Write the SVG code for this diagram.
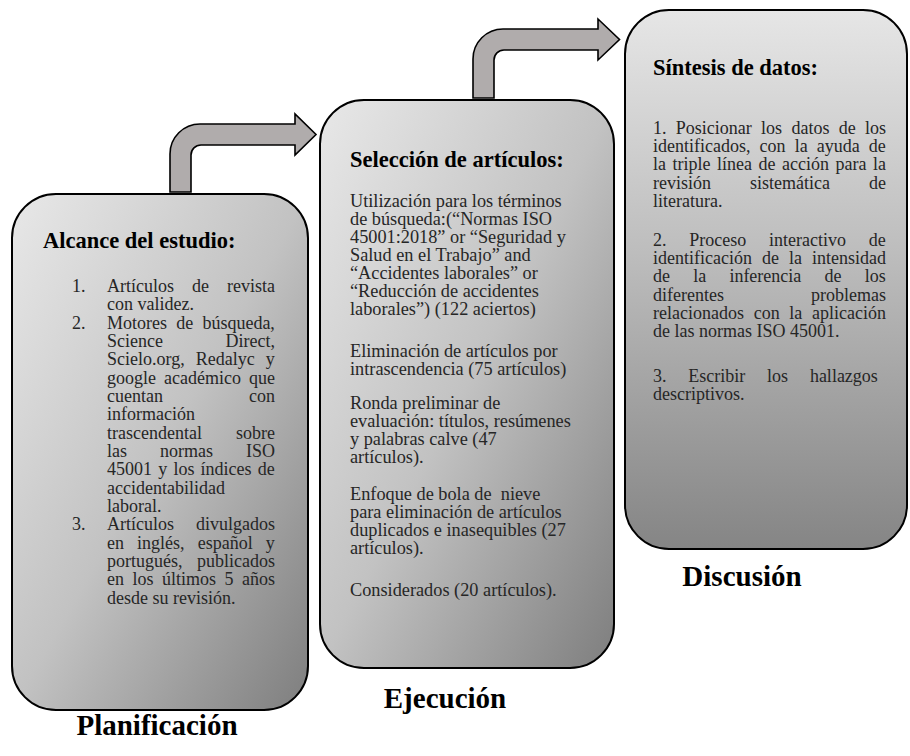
<svg xmlns="http://www.w3.org/2000/svg" width="910" height="756" viewBox="0 0 910 756">
<defs>
<linearGradient id="gDiag" x1="0" y1="0" x2="1" y2="1">
<stop offset="0" stop-color="#e8e8e8"/>
<stop offset="0.5" stop-color="#c2c2c2"/>
<stop offset="1" stop-color="#7e7e7e"/>
</linearGradient>
<linearGradient id="gVert" x1="0" y1="0" x2="0" y2="1">
<stop offset="0" stop-color="#e6e6e6"/>
<stop offset="0.45" stop-color="#bdbdbd"/>
<stop offset="1" stop-color="#858585"/>
</linearGradient>
<style>
.box{stroke:#000;stroke-width:2}
.arrow{fill:#b0acac;stroke:#000;stroke-width:1.6;stroke-linejoin:miter}
.t{font-family:"Liberation Serif","Times New Roman",serif;font-size:18px;fill:#262626}
.m{font-size:18.3px}
.h{font-family:"Liberation Serif","Times New Roman",serif;font-size:22.5px;font-weight:bold;fill:#000}
.lab{font-family:"Liberation Serif","Times New Roman",serif;font-size:29px;font-weight:bold;fill:#000;text-anchor:middle}
.r{text-anchor:end}
</style>
</defs>
<rect width="910" height="756" fill="#fff"/>

<g id="connectors">
<path class="arrow" d="M170,192 L170,154 A30,30 0 0 1 200,124 L295,124 L295,114 L316,134.5 L295,155 L295,145 L201,145 A10,10 0 0 0 191,155 L191,192 Z"/>
<path class="arrow" d="M473,98 L473,59 A30,30 0 0 1 503,29 L598,29 L598,19 L619.5,39.5 L598,60 L598,50 L504,50 A10,10 0 0 0 494,60 L494,98 Z"/>
</g>

<g id="node-planificacion">
<rect class="box" x="12" y="194" width="296" height="516" rx="44" ry="44" fill="url(#gDiag)"/>
<text class="h" x="43" y="248">Alcance del estudio:</text>
<text class="t" x="72" y="292">1.</text>
<text class="t" x="72" y="328.7">2.</text>
<text class="t" x="72" y="530.3">3.</text>
<text class="t" x="107" y="292" word-spacing="13.5">Artículos de revista</text>
<text class="t" x="107" y="310.3">con validez.</text>
<text class="t" x="107" y="328.7" word-spacing="4.7">Motores de búsqueda,</text>
<text class="t" x="107" y="347">Science</text><text class="t r" x="275" y="347">Direct,</text>
<text class="t" x="107" y="365.3" word-spacing="6.5">Scielo.org, Redalyc y</text>
<text class="t" x="107" y="383.7" word-spacing="3.5">google académico que</text>
<text class="t" x="107" y="402">cuentan</text><text class="t r" x="275" y="402">con</text>
<text class="t" x="107" y="420.3">información</text>
<text class="t" x="107" y="438.7">trascendental</text><text class="t r" x="275" y="438.7">sobre</text>
<text class="t" x="107" y="457" word-spacing="28.5">las normas ISO</text>
<text class="t" x="107" y="475.3" word-spacing="1.7">45001 y los índices de</text>
<text class="t" x="107" y="493.7">accidentabilidad</text>
<text class="t" x="107" y="512">laboral.</text>
<text class="t" x="107" y="530.3" word-spacing="17.5">Artículos divulgados</text>
<text class="t" x="107" y="548.7" word-spacing="8.6">en inglés, español y</text>
<text class="t" x="107" y="567" word-spacing="10">portugués, publicados</text>
<text class="t" x="107" y="585.3" word-spacing="4">en los últimos 5 años</text>
<text class="t" x="107" y="603.7">desde su revisión.</text>
<text class="lab" x="157" y="735">Planificación</text>
</g>

<g id="node-ejecucion">
<rect class="box" x="320" y="100" width="294" height="568" rx="44" ry="44" fill="url(#gDiag)"/>
<text class="h" x="350" y="167">Selección de artículos:</text>
<text class="t m" x="350" y="207">Utilización para los términos</text>
<text class="t m" x="350" y="225">de búsqueda:(“Normas ISO</text>
<text class="t m" x="350" y="243">45001:2018” or “Seguridad y</text>
<text class="t m" x="350" y="261">Salud en el Trabajo” and</text>
<text class="t m" x="350" y="279">“Accidentes laborales” or</text>
<text class="t m" x="350" y="297">“Reducción de accidentes</text>
<text class="t m" x="350" y="315">laborales”) (122 aciertos)</text>
<text class="t m" x="350" y="357">Eliminación de artículos por</text>
<text class="t m" x="350" y="375">intrascendencia (75 artículos)</text>
<text class="t m" x="350" y="409">Ronda preliminar de</text>
<text class="t m" x="350" y="427">evaluación: títulos, resúmenes</text>
<text class="t m" x="350" y="445">y palabras calve (47</text>
<text class="t m" x="350" y="463">artículos).</text>
<text class="t m" x="350" y="500" xml:space="preserve">Enfoque de bola de  nieve</text>
<text class="t m" x="350" y="518">para eliminación de artículos</text>
<text class="t m" x="350" y="536">duplicados e inasequibles (27</text>
<text class="t m" x="350" y="554">artículos).</text>
<text class="t m" x="350" y="596">Considerados (20 artículos).</text>
<text class="lab" x="445" y="708">Ejecución</text>
</g>

<g id="node-discusion">
<rect class="box" x="625" y="10" width="282" height="539" rx="44" ry="44" fill="url(#gVert)"/>
<text class="h" x="653" y="75">Síntesis de datos:</text>
<text class="t" x="653" y="134" word-spacing="4.8">1. Posicionar los datos de los</text>
<text class="t" x="653" y="152.2" word-spacing="4.6">identificados, con la ayuda de</text>
<text class="t" x="653" y="170.4" word-spacing="2">la triple línea de acción para la</text>
<text class="t" x="653" y="188.6" word-spacing="34.5">revisión sistemática de</text>
<text class="t" x="653" y="206.8">literatura.</text>
<text class="t" x="653" y="246" word-spacing="18.3">2. Proceso interactivo de</text>
<text class="t" x="653" y="264.2" word-spacing="5.5">identificación de la intensidad</text>
<text class="t" x="653" y="282.4" word-spacing="18.7">de la inferencia de los</text>
<text class="t" x="653" y="300.6">diferentes</text><text class="t r" x="886" y="300.6">problemas</text>
<text class="t" x="653" y="318.8" word-spacing="5.2">relacionados con la aplicación</text>
<text class="t" x="653" y="337">de las normas ISO 45001.</text>
<text class="t" x="653" y="382" word-spacing="17.3">3. Escribir los hallazgos</text>
<text class="t" x="653" y="400.2">descriptivos.</text>
<text class="lab" x="742" y="586">Discusión</text>
</g>
</svg>
